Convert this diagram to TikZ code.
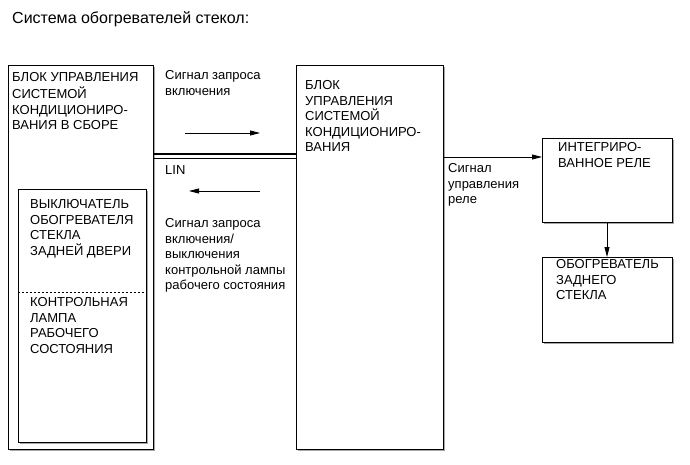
\documentclass[tikz,border=0pt]{standalone}
\usepackage{fontspec}
\setmainfont{Liberation Sans}
\usetikzlibrary{arrows.meta,shadows}
\begin{document}
\begin{tikzpicture}[x=1pt,y=-1pt,
  box/.style={draw, line width=0.8pt, fill=white, inner sep=0, anchor=north west,
    drop shadow={shadow xshift=1.3pt, shadow yshift=-1.3pt, fill=black!35, opacity=1}},
  txt/.style={inner sep=0, anchor=north west, align=left, font=\fontsize{13}{15.5}\selectfont},
  arr/.style={-{Triangle[length=10pt,width=5pt]}, line width=0.8pt},
  bus/.style={line width=1.2pt}]
\useasboundingbox (0,0) rectangle (690,465);

% title
\node[inner sep=0, anchor=base west, font=\fontsize{16}{19}\selectfont] (title) at (12,23.2) {Система обогревателей стекол:};

% boxes
\node[box, minimum width=145pt, minimum height=384pt] (lbox) at (8,65) {};
\node[box, minimum width=128pt, minimum height=253pt] (inner) at (18,189) {};
\node[box, minimum width=147pt, minimum height=384pt] (mid) at (296,65) {};
\node[box, minimum width=130pt, minimum height=84pt] (relay) at (542,138) {};
\node[box, minimum width=130pt, minimum height=85pt] (heater) at (542,257) {};

% dashed divider
\coordinate (d) at (0,292);
\draw[dash pattern=on 2pt off 2pt, line width=0.7pt] (inner.west |- d) -- (inner.east |- d);

% box texts
\node[txt] (ltext) at (12,70.5) {\strut БЛОК УПРАВЛЕНИЯ\\СИСТЕМОЙ\\КОНДИЦИОНИРО-\\ВАНИЯ В СБОРЕ};
\node[txt] (itext1) at (30,197.5) {\strut ВЫКЛЮЧАТЕЛЬ\\ОБОГРЕВАТЕЛЯ\\СТЕКЛА\\ЗАДНЕЙ ДВЕРИ};
\node[txt] (itext2) at (30,295.5) {\strut КОНТРОЛЬНАЯ\\ЛАМПА\\РАБОЧЕГО\\СОСТОЯНИЯ};
\node[txt] (mtext) at (305,78.5) {\strut БЛОК\\УПРАВЛЕНИЯ\\СИСТЕМОЙ\\КОНДИЦИОНИРО-\\ВАНИЯ};
\node[txt] (rtext) at (558,140.5) {\strut ИНТЕГРИРО-\\ВАННОЕ РЕЛЕ};
\node[txt] (htext) at (556,257.5) {\strut ОБОГРЕВАТЕЛЬ\\ЗАДНЕГО\\СТЕКЛА};

% LIN bus
\coordinate (b1) at (0,154);
\coordinate (b2) at (0,158.5);
\draw[bus] (lbox.east |- b1) -- (mid.west |- b1);
\draw[bus] (lbox.east |- b2) -- (mid.west |- b2);
\node[txt] (lin) at (165,163.5) {\strut LIN};

% signal arrows
\coordinate (a1s) at (185,133);
\coordinate (a1e) at (260,133);
\draw[arr] (a1s) -- (a1e);
\coordinate (a2s) at (260,191);
\coordinate (a2e) at (189,191);
\draw[arr] (a2s) -- (a2e);

\node[txt] (sig1) at (165,68.5) {\strut Сигнал запроса\\включения};
\node[txt] (sig2) at (165,216.5) {\strut Сигнал запроса\\включения/\\выключения\\контрольной лампы\\рабочего состояния};

% relay control
\coordinate (r1) at (0,157);
\draw[arr] (mid.east |- r1) -- (relay.west |- r1);
\node[txt] (sig3) at (448,161.5) {\strut Сигнал\\управления\\реле};

% relay to heater
\coordinate (v) at (607,0);
\draw[arr] (relay.south -| v) -- (heater.north -| v);
\end{tikzpicture}
\end{document}
